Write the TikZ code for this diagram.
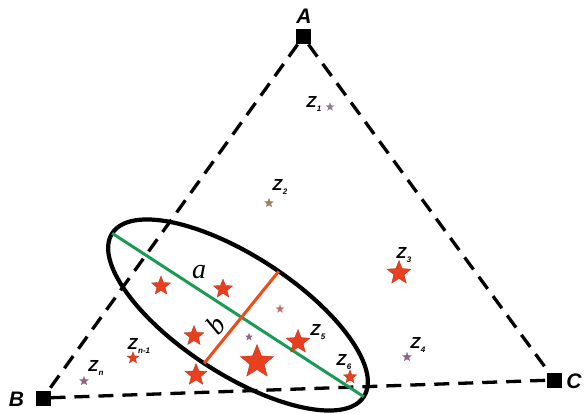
\documentclass[tikz,border=0pt]{standalone}
\usepackage{fontspec}
\setmainfont{Liberation Serif}
\setsansfont{Liberation Sans}
\usetikzlibrary{shapes.geometric}
\definecolor{starred}{HTML}{E8401E}
\definecolor{stardark}{HTML}{B8301A}
\definecolor{axisgreen}{HTML}{1A9A55}
\definecolor{axisred}{HTML}{F04A18}
\definecolor{sgrey}{HTML}{8C8090}
\definecolor{solive}{HTML}{9A8060}
\definecolor{spurple}{HTML}{8E6485}
\definecolor{spink}{HTML}{C0706E}
\newcommand\zsub[1]{Z\kern0.6pt\raisebox{-0.45ex}{\fontsize{8}{8}\selectfont #1}}
\begin{document}
\begin{tikzpicture}[x=1pt,y=-1pt,
  vert/.style={fill=black, minimum size=15pt, inner sep=0, outer sep=0},
  vlabel/.style={font=\sffamily\bfseries\itshape\fontsize{21}{21}\selectfont, inner sep=0},
  tri/.style={line width=3.3pt, dash pattern=on 15pt off 9pt},
  zstar/.style={star, star points=5, star point ratio=2.3, inner sep=0, outer sep=0, fill=starred, draw=stardark, line width=0.3pt},
  zlabel/.style={font=\sffamily\bfseries\itshape\fontsize{16}{16}\selectfont, inner sep=0},
  axislabel/.style={font=\itshape\fontsize{28}{28}\selectfont, inner sep=0},
]
\useasboundingbox (0,0) rectangle (584,414);
% vertices
\node[vert] (A) at (303,37) {};
\node[vert] (B) at (43,398) {};
\node[vert] (C) at (554.5,380) {};
\node[vlabel] (la) at (304,16) {A};
\node[vlabel] (lb) at (16.5,399) {B};
\node[vlabel] (lc) at (574,381) {C};
% triangle
\draw[tri] (A) -- (B);
\draw[tri] (A) -- (C);
\draw[tri] (B) -- (C);
% ellipse
\node[draw, line width=4.2pt, ellipse, minimum width=300pt, minimum height=118pt, inner sep=0, outer sep=0, rotate=-33] (E) at (238,315) {};
\draw[axisgreen, line width=3pt] (E.west) -- (E.east);
\draw[axisred, line width=3pt] (E.80) -- (E.268);
\node[axislabel] (a) at (199,272) {a};
\node[axislabel, rotate=50] (b) at (216,325) {b};
% stars inside ellipse
\node[zstar, minimum size=20pt] (s1) at (161,286) {};
\node[zstar, minimum size=20pt] (s2) at (223,289) {};
\node[zstar, minimum size=21pt] (s3) at (194,336) {};
\node[zstar, minimum size=8pt, fill=spink, draw=spink] (s4) at (280,309) {};
\node[zstar, minimum size=7pt, fill=spurple, draw=spurple] (s5) at (249,337) {};
\node[zstar, minimum size=35pt] (s6) at (257,362) {};
\node[zstar, minimum size=23pt] (s7) at (196,375) {};
% labelled stars
\node[zstar, minimum size=8pt, fill=sgrey, draw=sgrey] (z1) at (330,107) {};
\node[zstar, minimum size=9pt, fill=solive, draw=solive] (z2) at (269,203) {};
\node[zstar, minimum size=25pt] (z3) at (399,273) {};
\node[zstar, minimum size=9pt, fill=spurple, draw=spurple] (z4) at (407,357) {};
\node[zstar, minimum size=25pt] (z5) at (298,342) {};
\node[zstar, minimum size=14pt] (z6) at (350,377) {};
\node[zstar, minimum size=12pt] (zn1) at (133,358) {};
\node[zstar, minimum size=9pt, fill=spurple, draw=spurple] (zn) at (84,381) {};
\node[zlabel] (l1) at (314,104) {\zsub{1}};
\node[zlabel] (l2) at (280,187) {\zsub{2}};
\node[zlabel] (l3) at (404,255) {\zsub{3}};
\node[zlabel] (l4) at (418,345) {\zsub{4}};
\node[zlabel] (l5) at (318,332) {\zsub{5}};
\node[zlabel] (l6) at (344,362) {\zsub{6}};
\node[zlabel] (ln1) at (139,346) {\zsub{n-1}};
\node[zlabel] (ln) at (96,368) {\zsub{n}};
\end{tikzpicture}
\end{document}
